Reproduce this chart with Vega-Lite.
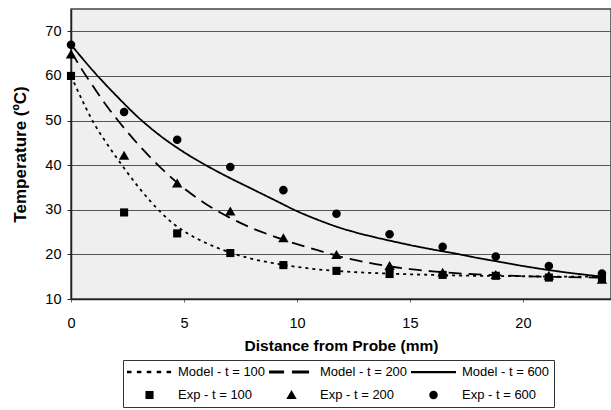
{
  "$schema": "https://vega.github.io/schema/vega-lite/v6.json",
  "width": 540,
  "height": 290,
  "autosize": {"type": "none"},
  "padding": {"left": 71, "top": 9, "right": 0, "bottom": 111},
  "background": "white",
  "config": {
    "font": "Liberation Sans",
    "view": {"fill": "#efefef", "stroke": "#444", "strokeWidth": 1.5},
    "legend": {"strokeWidth": 1}
  },
  "datasets": {
    "model": [
      {"model": "Model - t = 100", "x": 0, "y": 60},
      {"model": "Model - t = 100", "x": 0.5, "y": 54.5},
      {"model": "Model - t = 100", "x": 1, "y": 49.5},
      {"model": "Model - t = 100", "x": 1.5, "y": 45.5},
      {"model": "Model - t = 100", "x": 2, "y": 41.8},
      {"model": "Model - t = 100", "x": 2.5, "y": 38.3},
      {"model": "Model - t = 100", "x": 3, "y": 35},
      {"model": "Model - t = 100", "x": 3.5, "y": 32},
      {"model": "Model - t = 100", "x": 4, "y": 29.3},
      {"model": "Model - t = 100", "x": 4.5, "y": 27},
      {"model": "Model - t = 100", "x": 5, "y": 25.2},
      {"model": "Model - t = 100", "x": 6, "y": 22.5},
      {"model": "Model - t = 100", "x": 7, "y": 20.5},
      {"model": "Model - t = 100", "x": 8, "y": 19},
      {"model": "Model - t = 100", "x": 9, "y": 18},
      {"model": "Model - t = 100", "x": 10, "y": 17.2},
      {"model": "Model - t = 100", "x": 11, "y": 16.6},
      {"model": "Model - t = 100", "x": 12, "y": 16.2},
      {"model": "Model - t = 100", "x": 14, "y": 15.7},
      {"model": "Model - t = 100", "x": 16, "y": 15.4},
      {"model": "Model - t = 100", "x": 18, "y": 15.2},
      {"model": "Model - t = 100", "x": 20, "y": 15.1},
      {"model": "Model - t = 100", "x": 22, "y": 15.0},
      {"model": "Model - t = 100", "x": 23.5, "y": 15.0},
      {"model": "Model - t = 200", "x": 0, "y": 65.5},
      {"model": "Model - t = 200", "x": 0.5, "y": 61.3},
      {"model": "Model - t = 200", "x": 1, "y": 57.5},
      {"model": "Model - t = 200", "x": 1.5, "y": 53.8},
      {"model": "Model - t = 200", "x": 2, "y": 50.5},
      {"model": "Model - t = 200", "x": 3, "y": 44.5},
      {"model": "Model - t = 200", "x": 4, "y": 39.3},
      {"model": "Model - t = 200", "x": 5, "y": 34.8},
      {"model": "Model - t = 200", "x": 6, "y": 31.2},
      {"model": "Model - t = 200", "x": 7, "y": 28.3},
      {"model": "Model - t = 200", "x": 8, "y": 25.9},
      {"model": "Model - t = 200", "x": 9, "y": 24},
      {"model": "Model - t = 200", "x": 10, "y": 22.3},
      {"model": "Model - t = 200", "x": 11, "y": 20.8},
      {"model": "Model - t = 200", "x": 12, "y": 19.4},
      {"model": "Model - t = 200", "x": 13, "y": 18.3},
      {"model": "Model - t = 200", "x": 14, "y": 17.4},
      {"model": "Model - t = 200", "x": 15, "y": 16.7},
      {"model": "Model - t = 200", "x": 16, "y": 16.2},
      {"model": "Model - t = 200", "x": 17, "y": 15.8},
      {"model": "Model - t = 200", "x": 18, "y": 15.5},
      {"model": "Model - t = 200", "x": 19, "y": 15.3},
      {"model": "Model - t = 200", "x": 20, "y": 15.1},
      {"model": "Model - t = 200", "x": 21, "y": 15.0},
      {"model": "Model - t = 200", "x": 22, "y": 14.9},
      {"model": "Model - t = 200", "x": 23.5, "y": 14.8},
      {"model": "Model - t = 600", "x": 0, "y": 67},
      {"model": "Model - t = 600", "x": 1, "y": 61.0},
      {"model": "Model - t = 600", "x": 2, "y": 55.6},
      {"model": "Model - t = 600", "x": 3, "y": 50.6},
      {"model": "Model - t = 600", "x": 4, "y": 46.4},
      {"model": "Model - t = 600", "x": 5, "y": 42.9},
      {"model": "Model - t = 600", "x": 6, "y": 39.9},
      {"model": "Model - t = 600", "x": 7, "y": 37.2},
      {"model": "Model - t = 600", "x": 8, "y": 34.7},
      {"model": "Model - t = 600", "x": 9, "y": 32.2},
      {"model": "Model - t = 600", "x": 10, "y": 29.7},
      {"model": "Model - t = 600", "x": 11, "y": 27.6},
      {"model": "Model - t = 600", "x": 12, "y": 25.8},
      {"model": "Model - t = 600", "x": 13, "y": 24.4},
      {"model": "Model - t = 600", "x": 14, "y": 23.2},
      {"model": "Model - t = 600", "x": 15, "y": 22.1},
      {"model": "Model - t = 600", "x": 16, "y": 21.1},
      {"model": "Model - t = 600", "x": 17, "y": 20.2},
      {"model": "Model - t = 600", "x": 18, "y": 19.2},
      {"model": "Model - t = 600", "x": 19, "y": 18.3},
      {"model": "Model - t = 600", "x": 20, "y": 17.4},
      {"model": "Model - t = 600", "x": 21, "y": 16.6},
      {"model": "Model - t = 600", "x": 22, "y": 15.9},
      {"model": "Model - t = 600", "x": 23, "y": 15.3},
      {"model": "Model - t = 600", "x": 23.5, "y": 15.0}
    ],
    "exp": [
      {"series": "Exp - t = 100", "x": 0, "y": 60},
      {"series": "Exp - t = 100", "x": 2.35, "y": 29.4},
      {"series": "Exp - t = 100", "x": 4.7, "y": 24.7},
      {"series": "Exp - t = 100", "x": 7.05, "y": 20.3},
      {"series": "Exp - t = 100", "x": 9.4, "y": 17.6},
      {"series": "Exp - t = 100", "x": 11.75, "y": 16.3},
      {"series": "Exp - t = 100", "x": 14.1, "y": 15.6},
      {"series": "Exp - t = 100", "x": 16.45, "y": 15.4},
      {"series": "Exp - t = 100", "x": 18.8, "y": 15.2},
      {"series": "Exp - t = 100", "x": 21.15, "y": 14.8},
      {"series": "Exp - t = 100", "x": 23.5, "y": 14.8},
      {"series": "Exp - t = 200", "x": 0, "y": 64.8},
      {"series": "Exp - t = 200", "x": 2.35, "y": 42.1},
      {"series": "Exp - t = 200", "x": 4.7, "y": 35.9},
      {"series": "Exp - t = 200", "x": 7.05, "y": 29.6},
      {"series": "Exp - t = 200", "x": 9.4, "y": 23.6},
      {"series": "Exp - t = 200", "x": 11.75, "y": 19.9},
      {"series": "Exp - t = 200", "x": 14.1, "y": 17.4},
      {"series": "Exp - t = 200", "x": 16.45, "y": 15.9},
      {"series": "Exp - t = 200", "x": 18.8, "y": 15.4},
      {"series": "Exp - t = 200", "x": 21.15, "y": 15.2},
      {"series": "Exp - t = 200", "x": 23.5, "y": 14.3},
      {"series": "Exp - t = 600", "x": 0, "y": 67},
      {"series": "Exp - t = 600", "x": 2.35, "y": 51.9},
      {"series": "Exp - t = 600", "x": 4.7, "y": 45.7},
      {"series": "Exp - t = 600", "x": 7.05, "y": 39.6},
      {"series": "Exp - t = 600", "x": 9.4, "y": 34.4},
      {"series": "Exp - t = 600", "x": 11.75, "y": 29.1},
      {"series": "Exp - t = 600", "x": 14.1, "y": 24.5},
      {"series": "Exp - t = 600", "x": 16.45, "y": 21.7},
      {"series": "Exp - t = 600", "x": 18.8, "y": 19.5},
      {"series": "Exp - t = 600", "x": 21.15, "y": 17.4},
      {"series": "Exp - t = 600", "x": 23.5, "y": 15.7}
    ]
  },
  "encoding": {
    "x": {
      "field": "x", "type": "quantitative",
      "scale": {"domain": [0, 23.9], "nice": false, "zero": false},
      "axis": {
        "title": "Distance from Probe (mm)",
        "values": [0, 5, 10, 15, 20],
        "grid": false,
        "domainColor": "#222", "domainWidth": 1.5,
        "tickColor": "#666", "tickSize": 3,
        "labelFontSize": 14.5, "labelColor": "black", "labelPadding": 14,
        "labelFlush": false,
        "titleFontSize": 15.5, "titleFontWeight": "bold", "titleColor": "black",
        "titlePadding": 9
      }
    },
    "y": {
      "field": "y", "type": "quantitative",
      "scale": {"domain": [10, 75], "nice": false, "zero": false},
      "axis": {
        "title": "Temperature (ºC)",
        "values": [10, 20, 30, 40, 50, 60, 70],
        "grid": true, "gridColor": "#555", "gridWidth": 1,
        "domainColor": "#222", "domainWidth": 1.5,
        "tickColor": "#222", "tickSize": 4,
        "labelFontSize": 14.5, "labelColor": "black", "labelPadding": 6,
        "titleFontSize": 17, "titleFontWeight": "bold", "titleColor": "black",
        "titlePadding": 15
      }
    }
  },
  "layer": [
    {
      "data": {"name": "model"},
      "mark": {"type": "line", "color": "black", "strokeWidth": 1.8, "interpolate": "monotone"},
      "encoding": {
        "strokeDash": {
          "field": "model", "type": "nominal",
          "scale": {
            "domain": ["Model - t = 100", "Model - t = 200", "Model - t = 600"],
            "range": [[3, 4], [13, 7], [1, 0]]
          },
          "legend": null
        }
      }
    },
    {
      "data": {"name": "exp"},
      "mark": {"type": "point", "filled": true, "color": "black", "size": 2025, "opacity": 1, "strokeWidth": 0},
      "encoding": {
        "shape": {
          "field": "series", "type": "nominal",
          "scale": {
            "domain": ["Model - t = 100", "Model - t = 200", "Model - t = 600", "Exp - t = 100", "Exp - t = 200", "Exp - t = 600"],
            "range": [
              "M-1,-0.06H-0.8V0.06H-1ZM-0.56,-0.06H-0.36V0.06H-0.56ZM-0.12,-0.06H0.08V0.06H-0.12ZM0.32,-0.06H0.52V0.06H0.32ZM0.76,-0.06H0.96V0.06H0.76Z",
              "M-1,-0.07H-0.33V0.07H-1ZM0.02,-0.07H0.78V0.07H0.02Z",
              "M-1,-0.05H1V0.05H-1Z",
              "M-0.18,-0.18H0.18V0.18H-0.18Z",
              "M0,-0.22L0.23,0.18L-0.23,0.18Z",
              "M0.19,0A0.19,0.19 0 1,1 -0.19,0A0.19,0.19 0 1,1 0.19,0Z"
            ]
          },
          "legend": {
            "title": null,
            "orient": "none",
            "legendX": 52,
            "legendY": 351,
            "direction": "horizontal",
            "columns": 3,
            "symbolSize": 2025,
            "symbolFillColor": "black",
            "symbolStrokeWidth": 0,
            "symbolOpacity": 1,
            "clipHeight": 16,
            "rowPadding": 7,
            "columnPadding": 3,
            "labelOffset": 6,
            "labelFontSize": 13,
            "labelColor": "black",
            "labelLimit": 200,
            "padding": 4,
            "strokeColor": "#333",
            "fillColor": "white"
          }
        }
      }
    }
  ]
}
